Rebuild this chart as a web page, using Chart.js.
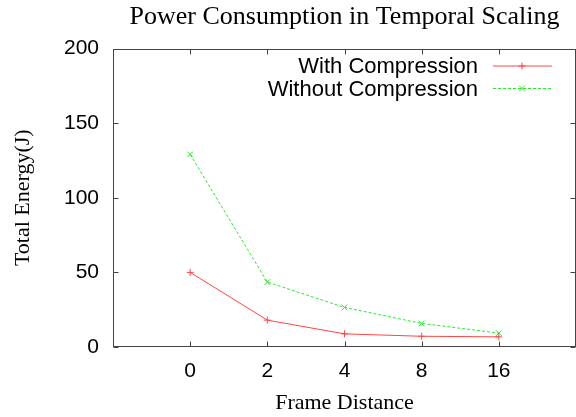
<!DOCTYPE html>
<html>
<head>
<meta charset="utf-8">
<script src="https://cdn.jsdelivr.net/npm/chart.js@4.4.1/dist/chart.umd.min.js"></script>
<style>
  html, body { margin: 0; padding: 0; background: #fff; }
  #wrap { width: 576px; height: 417px; }
</style>
</head>
<body>
<div id="wrap"><canvas id="myChart"></canvas></div>
<script>
const frameDistances = ["0", "2", "4", "8", "16"];
const withCompression = [50, 18, 8.8, 7.2, 6.8];
const withoutCompression = [129, 43.5, 26.5, 15.8, 9.3];
const energyTicks = [0, 50, 100, 150, 200];

Chart.defaults.font.family = "'Liberation Sans', Arial, sans-serif";
Chart.defaults.color = "#000";

const toPoints = (arr) => arr.map((v, i) => ({ x: i, y: v }));

// gnuplot style box, inward ticks on all sides, key inside the plot
const gnuplotFrame = {
  id: "gnuplotFrame",
  afterDraw(chart) {
    const { ctx, chartArea: a, scales } = chart;
    const x = scales.x, y = scales.y;
    const L = Math.round(a.left) + 0.5, R = Math.round(a.right) - 0.5;
    const T = Math.round(a.top) + 0.5, B = Math.round(a.bottom) - 0.5;
    ctx.save();
    ctx.strokeStyle = "#444";
    ctx.lineWidth = 1;
    ctx.strokeRect(L, T, R - L, B - T);
    ctx.beginPath();
    x.ticks.forEach((t) => {
      const px = Math.round(x.getPixelForValue(t.value)) + 0.5;
      ctx.moveTo(px, B); ctx.lineTo(px, B - 5);
      ctx.moveTo(px, T); ctx.lineTo(px, T + 5);
    });
    y.ticks.forEach((t) => {
      const py = Math.round(y.getPixelForValue(t.value)) + 0.5;
      ctx.moveTo(L, py); ctx.lineTo(L + 5, py);
      ctx.moveTo(R, py); ctx.lineTo(R - 5, py);
    });
    ctx.stroke();

    // key
    const rows = [66, 88.5];
    ctx.font = "22px 'Liberation Sans', Arial, sans-serif";
    ctx.textAlign = "right";
    ctx.textBaseline = "middle";
    chart.data.datasets.forEach((ds, i) => {
      const yy = rows[i];
      ctx.fillStyle = "#000";
      ctx.fillText(ds.label, 478, yy + 1);
      ctx.strokeStyle = ds.borderColor;
      ctx.lineWidth = 1;
      ctx.setLineDash(ds.borderDash || []);
      ctx.beginPath();
      ctx.moveTo(493, yy);
      ctx.lineTo(552, yy);
      ctx.stroke();
      ctx.setLineDash([]);
      Chart.helpers.drawPoint(ctx, {
        pointStyle: ds.pointStyle, radius: ds.pointRadius, rotation: 0, borderWidth: 1
      }, 522, yy);
    });
    ctx.restore();
  }
};

const ctx = document.getElementById("myChart");

new Chart(ctx, {
  type: "line",
  data: {
    datasets: [
      {
        label: "With Compression",
        data: toPoints(withCompression),
        borderColor: "rgb(255,70,70)",
        backgroundColor: "rgb(255,70,70)",
        borderWidth: 1,
        pointStyle: "cross",
        pointRadius: 3.5,
        pointBorderWidth: 1,
        tension: 0,
      },
      {
        label: "Without Compression",
        data: toPoints(withoutCompression),
        borderColor: "rgb(40,235,40)",
        backgroundColor: "rgb(40,235,40)",
        borderWidth: 1,
        borderDash: [3, 2],
        pointStyle: "crossRot",
        pointRadius: 4,
        pointBorderWidth: 1,
        tension: 0,
      },
    ],
  },
  options: {
    responsive: true,
    maintainAspectRatio: false,
    animation: false,
    layout: { autoPadding: false, padding: { left: 0, right: -3, top: 0, bottom: 0 } },
    plugins: {
      legend: { display: false },
      tooltip: { enabled: false },
      title: {
        display: true,
        fullSize: false,
        text: "Power Consumption in Temporal Scaling",
        color: "#000",
        font: { family: "'Liberation Serif', 'Times New Roman', serif", size: 26, weight: "normal", lineHeight: 1.2 },
        padding: { top: 2, bottom: 15.3 },
      },
    },
    scales: {
      x: {
        type: "linear",
        min: -1,
        max: 5,
        afterBuildTicks: (s) => {
          s.ticks = frameDistances.map((_, i) => ({ value: i }));
        },
        afterFit: (s) => {
          s.height = 70;
          s.paddingLeft = 0;
          s.paddingRight = 0;
        },
        grid: { display: false, drawTicks: false },
        border: { display: false },
        ticks: {
          callback: (v) => frameDistances[v],
          font: { size: 21 },
          padding: 12,
          maxRotation: 0,
          autoSkip: false,
        },
        title: {
          display: true,
          text: "Frame Distance",
          font: { family: "'Liberation Serif', 'Times New Roman', serif", size: 22 },
          padding: { top: 0, bottom: 1 },
        },
      },
      y: {
        min: 0,
        max: 200,
        afterBuildTicks: (s) => {
          s.ticks = energyTicks.map((v) => ({ value: v }));
        },
        afterFit: (s) => { s.width = 113; },
        grid: { display: false, drawTicks: false },
        border: { display: false },
        ticks: {
          font: { size: 21 },
          padding: 14,
        },
        title: {
          display: true,
          text: "Total Energy(J)",
          font: { family: "'Liberation Serif', 'Times New Roman', serif", size: 22 },
          padding: { top: 10, bottom: 0 },
        },
      },
    },
  },
  plugins: [gnuplotFrame],
});
</script>
</body>
</html>
